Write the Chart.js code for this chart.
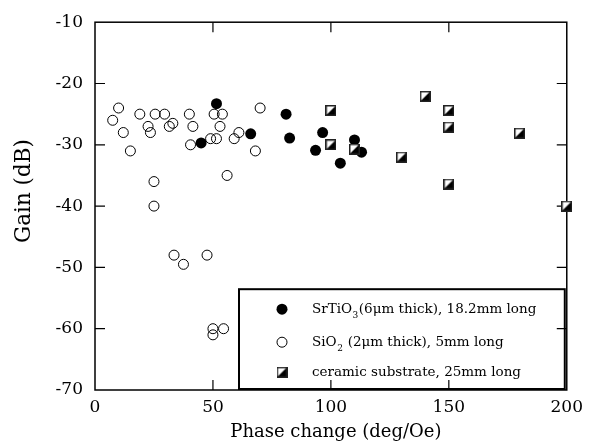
<!DOCTYPE html>
<html>
<head>
<meta charset="utf-8">
<script src="https://cdn.jsdelivr.net/npm/chart.js@4/dist/chart.umd.min.js"></script>
<style>
html,body{margin:0;padding:0;background:#fff;}
canvas{display:block;}
</style>
</head>
<body>
<canvas id="c" width="590" height="447"></canvas>
<script>
// ---- data ----
const srtioX = [45, 51.5, 66, 81, 82.5, 93.5, 96.5, 104, 110, 113];
const srtioY = [-29.7, -23.3, -28.2, -25, -28.9, -30.9, -28, -33, -29.2, -31.2];

const sioX = [7.5, 10, 12, 15, 19, 22.5, 23.5, 25.5, 29.5, 31.5, 33, 25, 25, 40, 41.5, 40.5, 49, 51.5, 50.5, 54, 53, 56, 59, 61, 68, 70, 33.5, 37.5, 47.5, 50, 50, 54.5];
const sioY = [-26, -24, -28, -31, -25, -27, -28, -25, -25, -27, -26.5, -36, -40, -25, -27, -30, -29, -29, -25, -25, -27, -35, -29, -28, -31, -24, -48, -49.5, -48, -60, -61, -60];

const ceramicX = [100, 100, 110, 130, 140, 150, 150, 150, 180, 200];
const ceramicY = [-24.4, -30, -30.7, -32, -22.1, -24.4, -27.1, -36.4, -28.1, -40];

const xTicks = [0, 50, 100, 150, 200];
const yTicks = [-10, -20, -30, -40, -50, -60, -70];

const xTitle = 'Phase change (deg/Oe)';
const yTitle = 'Gain (dB)';
const legendLabels = [
  ['SrTiO', '3', '(6μm thick), 18.2mm long'],
  ['SiO', '2', ' (2μm thick), 5mm long'],
  ['ceramic substrate, 25mm long', '', '']
];

const FONT = '"DejaVu Serif", "Liberation Serif", serif';

function pts(xs, ys){ return xs.map((x,i)=>({x:x, y:ys[i]})); }

function makeSquare(size){
  const c = document.createElement('canvas');
  c.width = size; c.height = size;
  const g = c.getContext('2d');
  g.fillStyle = '#fff'; g.fillRect(0,0,size,size);
  g.fillStyle = '#000';
  g.beginPath(); g.moveTo(size,0); g.lineTo(size,size); g.lineTo(0,size); g.closePath(); g.fill();
  g.strokeStyle = '#222'; g.lineWidth = 1.5;
  g.strokeRect(0.75,0.75,size-1.5,size-1.5);
  return c;
}
const squareImg = makeSquare(11);

const framePlugin = {
  id: 'frame',
  beforeDatasetsDraw(chart){
    const {ctx, chartArea:a, scales:{x, y}} = chart;
    ctx.save();
    // legend box
    const L = a.left + 144, T = a.top + 267, R = a.right - 2, B = a.bottom - 1;
    ctx.fillStyle = '#fff';
    ctx.fillRect(L, T, R-L, B-T);
    ctx.strokeStyle = '#000'; ctx.lineWidth = 2;
    ctx.strokeRect(L, T, R-L, B-T);
    const rows = [T+20, T+53, T+83];
    const mx = L + 43, tx = L + 73;
    // markers
    ctx.fillStyle = '#000';
    ctx.beginPath(); ctx.arc(mx, rows[0], 5.5, 0, Math.PI*2); ctx.fill();
    ctx.beginPath(); ctx.arc(mx, rows[1], 5, 0, Math.PI*2);
    ctx.fillStyle = '#fff'; ctx.fill(); ctx.lineWidth = 1; ctx.strokeStyle = '#000'; ctx.stroke();
    ctx.drawImage(squareImg, mx - 5.5, rows[2] - 5.5);
    // text
    ctx.fillStyle = '#000';
    ctx.textBaseline = 'middle'; ctx.textAlign = 'left';
    legendLabels.forEach((parts, i) => {
      let px = tx;
      ctx.font = '13.5px ' + FONT;
      ctx.fillText(parts[0], px, rows[i]);
      px += ctx.measureText(parts[0]).width;
      if (parts[1]) {
        ctx.font = '9px ' + FONT;
        ctx.fillText(parts[1], px + 0.5, rows[i] + 6);
        px += ctx.measureText(parts[1]).width + 1;
        ctx.font = '13.5px ' + FONT;
        ctx.fillText(parts[2], px, rows[i]);
      }
    });
    // frame
    ctx.strokeStyle = '#000'; ctx.lineWidth = 1.5;
    ctx.strokeRect(a.left, a.top, a.right - a.left, a.bottom - a.top);
    // inward ticks
    ctx.lineWidth = 1.2;
    const tl = 10;
    ctx.beginPath();
    x.ticks.forEach(t => {
      const p = x.getPixelForValue(t.value);
      if (p <= a.left + 1 || p >= a.right - 1) return;
      ctx.moveTo(p, a.bottom); ctx.lineTo(p, a.bottom - tl);
      ctx.moveTo(p, a.top); ctx.lineTo(p, a.top + tl);
    });
    y.ticks.forEach(t => {
      const p = y.getPixelForValue(t.value);
      if (p <= a.top + 1 || p >= a.bottom - 1) return;
      ctx.moveTo(a.left, p); ctx.lineTo(a.left + tl, p);
      ctx.moveTo(a.right, p); ctx.lineTo(a.right - tl, p);
    });
    ctx.stroke();
    ctx.restore();
  },
  afterDraw(chart){
    const {ctx, chartArea:a} = chart;
    ctx.save();
    ctx.fillStyle = '#000';
    ctx.textAlign = 'center'; ctx.textBaseline = 'middle';
    ctx.font = '18px ' + FONT;
    ctx.fillText(xTitle, (a.left + a.right)/2 + 5, 432);
    ctx.translate(24, 191);
    ctx.rotate(-Math.PI/2);
    ctx.font = '21.5px ' + FONT;
    ctx.fillText(yTitle, 0, 0);
    ctx.restore();
  }
};

new Chart(document.getElementById('c'), {
  type: 'scatter',
  data: {
    datasets: [
      { label: legendLabels[2][0], data: pts(ceramicX, ceramicY), pointStyle: squareImg, pointRadius: 5.5, clip: false },
      { label: 'SrTiO3', data: pts(srtioX, srtioY), pointStyle: 'circle', pointRadius: 5.5,
        backgroundColor: '#000', borderColor: '#000', borderWidth: 0, clip: false },
      { label: 'SiO2', data: pts(sioX, sioY), pointStyle: 'circle', pointRadius: 5,
        backgroundColor: 'rgba(255,255,255,0)', borderColor: '#000', borderWidth: 1, clip: false }
    ]
  },
  options: {
    responsive: false,
    animation: false,
    devicePixelRatio: 1,
    layout: { padding: { top: 17, right: 23, left: 0, bottom: 0 } },
    plugins: { legend: { display: false }, tooltip: { enabled: false } },
    elements: { point: { hoverRadius: 5 } },
    scales: {
      x: {
        type: 'linear', min: 0, max: 200,
        afterBuildTicks: s => { s.ticks = xTicks.map(v => ({value: v})); },
        grid: { display: false, drawTicks: false },
        border: { display: false },
        ticks: { color: '#000', font: { family: FONT, size: 17 }, padding: 7, maxRotation: 0 },
        afterFit: s => { s.height = 57; }
      },
      y: {
        type: 'linear', min: -70, max: -10,
        afterBuildTicks: s => { s.ticks = yTicks.map(v => ({value: v})); },
        grid: { display: false, drawTicks: false },
        border: { display: false },
        ticks: { color: '#000', font: { family: FONT, size: 17 }, padding: 12 },
        afterFit: s => { s.width = 95; }
      }
    }
  },
  plugins: [framePlugin]
});
</script>
</body>
</html>
